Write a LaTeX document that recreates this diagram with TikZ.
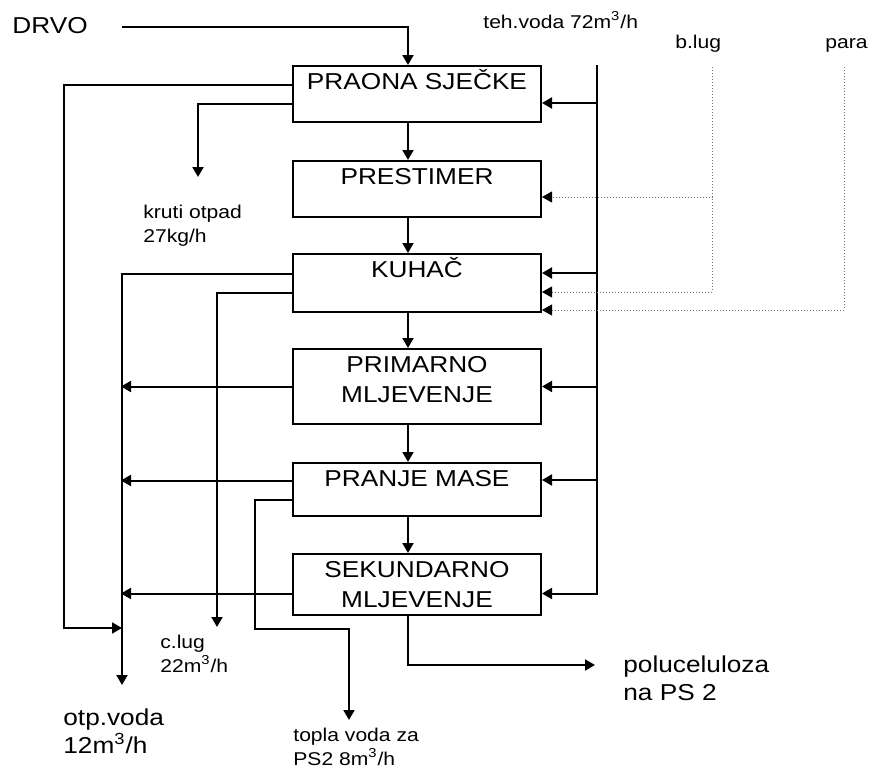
\documentclass[tikz,border=0pt]{standalone}
\usepackage{fontspec}
\setmainfont{Liberation Sans}[FakeStretch=1.14]
\usepackage{tikz}
\usetikzlibrary{arrows.meta}
\tikzstyle{arrow}=[-{Triangle[length=5pt,width=5.5pt]}, line width=1pt, color=black]
\tikzstyle{dotarrow}=[-{Triangle[length=5pt,width=5.5pt,color=black]}, line width=0.5pt, densely dotted, color=black!55]

\begin{document}
\begin{tikzpicture}[x=0.5pt, y=-0.5pt,
  procbox/.style={rectangle, draw, line width=1pt, minimum width=124pt,
                  inner ysep=3.6pt, text height=8.3pt, text depth=#1,
                  align=center, anchor=north, font=\fontsize{11.5}{15}\selectfont},
  lbl/.style={inner sep=0pt, align=left, anchor=base west, font=\fontsize{9.25}{12}\selectfont},
  biglbl/.style={inner sep=0pt, align=left, anchor=base west, font=\fontsize{11.5}{14}\selectfont}
]
\useasboundingbox (0,0) rectangle (869,771);

% process line
\node[procbox=12.5pt] (praona)   at (417,65)  {PRAONA SJEČKE};
\node[procbox=12.5pt] (prest)    at (417,160) {PRESTIMER};
\node[procbox=13.5pt] (kuhac)    at (417,253) {KUHAČ};
\node[procbox=7pt, text height=23.3pt] (primarno) at (417,348) {PRIMARNO\\MLJEVENJE};
\node[procbox=11pt]   (pranje)   at (417,462) {PRANJE MASE};
\node[procbox=0pt, text height=23.3pt] (sek) at (417,553) {SEKUNDARNO\\MLJEVENJE};

\draw[arrow] ([xshift=-4.5pt]praona.south)   -- ([xshift=-4.5pt]prest.north);
\draw[arrow] ([xshift=-4.5pt]prest.south)    -- ([xshift=-4.5pt]kuhac.north);
\draw[arrow] ([xshift=-4.5pt]kuhac.south)    -- ([xshift=-4.5pt]primarno.north);
\draw[arrow] ([xshift=-4.5pt]primarno.south) -- ([xshift=-4.5pt]pranje.north);
\draw[arrow] ([xshift=-4.5pt]pranje.south)   -- ([xshift=-4.5pt]sek.north);

% inputs
\node[biglbl] (drvo) at (12,33) {DRVO};
\draw[arrow] ([xshift=17pt,yshift=-1pt]drvo.east) -| ([xshift=-4.5pt]praona.north);

\node[lbl] (tehvoda) at (483,28) {teh.voda 72m\textsuperscript{3}/h};
\node[lbl] (blug)    at (675,48) {b.lug};
\node[lbl] (para)    at (825,48) {para};

\coordinate (voda-top) at (597,65);
\draw[arrow] (voda-top) |- ([yshift=-4.5pt]praona.east);
\draw[arrow] (voda-top) |- ([yshift=5pt]kuhac.east);
\draw[arrow] (voda-top) |- (primarno.east);
\draw[arrow] (voda-top) |- ([yshift=4.75pt]pranje.east);
\draw[arrow] (voda-top) |- ([yshift=-4.5pt]sek.east);

\coordinate (blug-top) at (712,67);
\draw[dotarrow] (blug-top) |- ([yshift=-4pt]prest.east);
\draw[dotarrow] (blug-top) |- ([yshift=-4.5pt]kuhac.east);
\coordinate (para-top) at (844,67);
\draw[dotarrow] (para-top) |- ([yshift=-13.5pt]kuhac.east);

% outputs
\coordinate (kruti-end) at (198,177);
\coordinate (otp-in)    at (122,628);
\coordinate (otp-end)   at (122,685);
\coordinate (clug-end)  at (217,627);
\coordinate (topla-end) at (349,720);
\coordinate (pol-end)   at (595,665);

\draw[arrow] ([yshift=4.5pt]praona.west) -- ++(-114pt,0) |- (otp-in);
\draw[arrow] ([yshift=-5pt]praona.west) -| (kruti-end);
\draw[arrow] ([yshift=4.5pt]kuhac.west) -| (otp-end);
\draw[arrow] (primarno.west) -- ++(-85.5pt,0);
\draw[arrow] ([yshift=4.5pt]pranje.west) -- ++(-85.5pt,0);
\draw[arrow] ([yshift=-4.5pt]sek.west) -- ++(-85.5pt,0);
\draw[arrow] ([yshift=-5pt]kuhac.west) -| (clug-end);
\draw[arrow] ([yshift=-5pt]pranje.west) -- ++(-18.5pt,0) -- ++(0,-64.5pt) -| (topla-end);
\draw[arrow] ([xshift=-4.5pt]sek.south) |- (pol-end);

\node[lbl]    (kruti) at (143,242) {kruti otpad\\27kg/h};
\node[lbl]    (clug)  at (160,672) {c.lug\\22m\textsuperscript{3}/h};
\node[biglbl] (otp)   at (63,753)  {otp.voda\\12m\textsuperscript{3}/h};
\node[lbl]    (topla) at (293,765) {topla voda za\\PS2 8m\textsuperscript{3}/h};
\node[biglbl] (pol)   at (623,700) {poluceluloza\\na PS 2};
\end{tikzpicture}
\end{document}
